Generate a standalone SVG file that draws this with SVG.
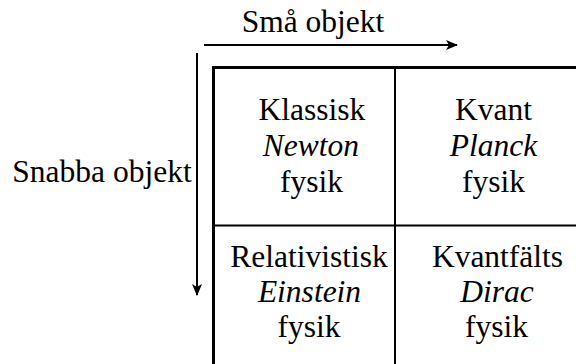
<svg xmlns="http://www.w3.org/2000/svg" width="576" height="364" viewBox="0 0 576 364">
<style>
text{font-family:'Liberation Serif','Times New Roman',Times,'DejaVu Serif',serif;font-size:31.5px;fill:#000;text-anchor:middle}
.i{font-style:italic}
.outer{stroke:#000;stroke-width:3;fill:none}
.inner{stroke:#000;stroke-width:2;fill:none}
.arr{stroke:#000;stroke-width:2;fill:none}
</style>
<defs>
<marker id="ah" viewBox="0 0 12 10" refX="11" refY="5" markerWidth="12" markerHeight="10" markerUnits="userSpaceOnUse" orient="auto">
<path d="M0,0 L12,5 L0,10 L3,5 Z" fill="#000"/>
</marker>
</defs>
<g id="connectors">
<line class="arr" x1="204" y1="45" x2="457" y2="45" marker-end="url(#ah)"/>
<line class="arr" x1="197" y1="53" x2="197" y2="295" marker-end="url(#ah)"/>
</g>
<g id="labels" font-family="Liberation Serif, serif">
<text x="313" y="32">Små objekt</text>
<text x="102" y="182">Snabba objekt</text>
</g>
<g id="grid">
<path class="outer" d="M213.5,364 V67.5 H576"/>
<line class="inner" x1="395" y1="67" x2="395" y2="364"/>
<line class="inner" x1="213" y1="225.5" x2="576" y2="225.5"/>
</g>
<g id="klassisk">
<text x="312" y="120">Klassisk</text>
<text x="311" y="156" class="i">Newton</text>
<text x="311.5" y="192">fysik</text>
</g>
<g id="kvant">
<text x="493.5" y="120">Kvant</text>
<text x="493.5" y="156" class="i">Planck</text>
<text x="493.5" y="192">fysik</text>
</g>
<g id="relativistisk">
<text x="309" y="267">Relativistisk</text>
<text x="309.5" y="302" class="i">Einstein</text>
<text x="309" y="337">fysik</text>
</g>
<g id="kvantfalts">
<text x="497.5" y="267">Kvantfälts</text>
<text x="497" y="302" class="i">Dirac</text>
<text x="496.5" y="337">fysik</text>
</g>
</svg>
